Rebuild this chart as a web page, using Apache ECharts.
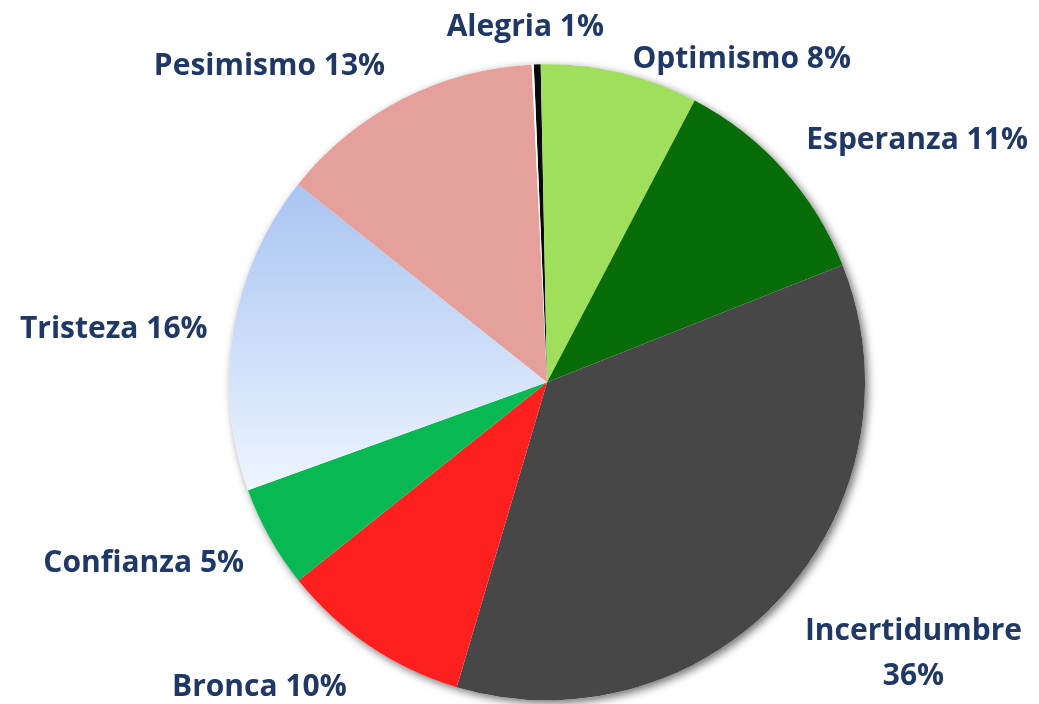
<!DOCTYPE html>
<html>
<head>
    <meta charset="UTF-8">
    <title>Emociones</title>
    <script src="https://cdn.jsdelivr.net/npm/echarts@6/dist/echarts.min.js"></script>
    <style>
        html, body { margin: 0; padding: 0; background: #fff; }
        #chart { width: 1039px; height: 704px; }
    </style>
</head>
<body>
<div id="chart"></div>
<script type="text/javascript">
    // datos (orden horario desde arriba)
    var nombres = ['Alegria', 'Optimismo', 'Esperanza', 'Incertidumbre', 'Bronca', 'Confianza', 'Tristeza', 'Pesimismo', ''];
    var valores = [0.35, 8.0, 11.3, 35.6, 9.7, 5.2, 16.2, 13.55, 0.1];
    var etiquetas = ['1%', '8%', '11%', '36%', '10%', '5%', '16%', '13%', ''];
    var colores = ['#0a0a0a', '#9fdf5b', '#086c08', '#474747', '#fe1f1f', '#08b853', 'tristeza', '#e5a09c', '#ffffff'];

    // ajuste fino de la posicion de cada etiqueta [dx, dy]
    var ajustes = [[0, -9], [-5, 14], [-9, -10], [100, 38], [4, 18], [10, 12], [13, 3], [7, -8], [0, 0]];

    var gradTristeza = new echarts.graphic.LinearGradient(0, 0, 0, 1, [
        {offset: 0, color: '#a8c4f1'},
        {offset: 1, color: '#eef5ff'}
    ]);

    var datos = [];
    for (let i = 0; i < nombres.length; i++) {
        datos.push({
            name: nombres[i],
            value: valores[i],
            itemStyle: {color: colores[i] === 'tristeza' ? gradTristeza : colores[i]},
            label: {show: nombres[i] !== ''}
        });
    }

    var option = {
        animation: false,
        series: [
            {
                // sombra detras de la torta
                type: 'pie',
                silent: true,
                center: ['52.65%', '54.3%'],
                radius: 318,
                label: {show: false},
                itemStyle: {
                    color: '#ffffff',
                    shadowBlur: 8,
                    shadowOffsetX: 3,
                    shadowOffsetY: 3,
                    shadowColor: 'rgba(0,0,0,0.55)'
                },
                data: [{value: 1, name: 'fondo'}]
            },
            {
                type: 'pie',
                center: ['52.65%', '54.3%'],
                radius: 318,
                startAngle: 92.4,
                avoidLabelOverlap: false,
                label: {
                    position: 'outside',
                    color: '#1f3864',
                    fontFamily: 'Open Sans',
                    fontWeight: 'bold',
                    fontSize: 30,
                    lineHeight: 45,
                    formatter: function (p) {
                        if (p.name === 'Incertidumbre') {
                            return p.name + '\n' + etiquetas[p.dataIndex];
                        }
                        return p.name + ' ' + etiquetas[p.dataIndex];
                    }
                },
                labelLine: {show: false, length: 28, length2: 6},
                labelLayout: function (p) {
                    var a = ajustes[p.dataIndex];
                    var res = {dx: a[0], dy: a[1]};
                    if (p.dataIndex === 0 || p.dataIndex === 3) {
                        res.align = 'center';
                    }
                    return res;
                },
                data: datos
            }
        ]
    };

    var myChart = echarts.init(document.getElementById('chart'));
    myChart.setOption(option);
</script>
</body>
</html>
